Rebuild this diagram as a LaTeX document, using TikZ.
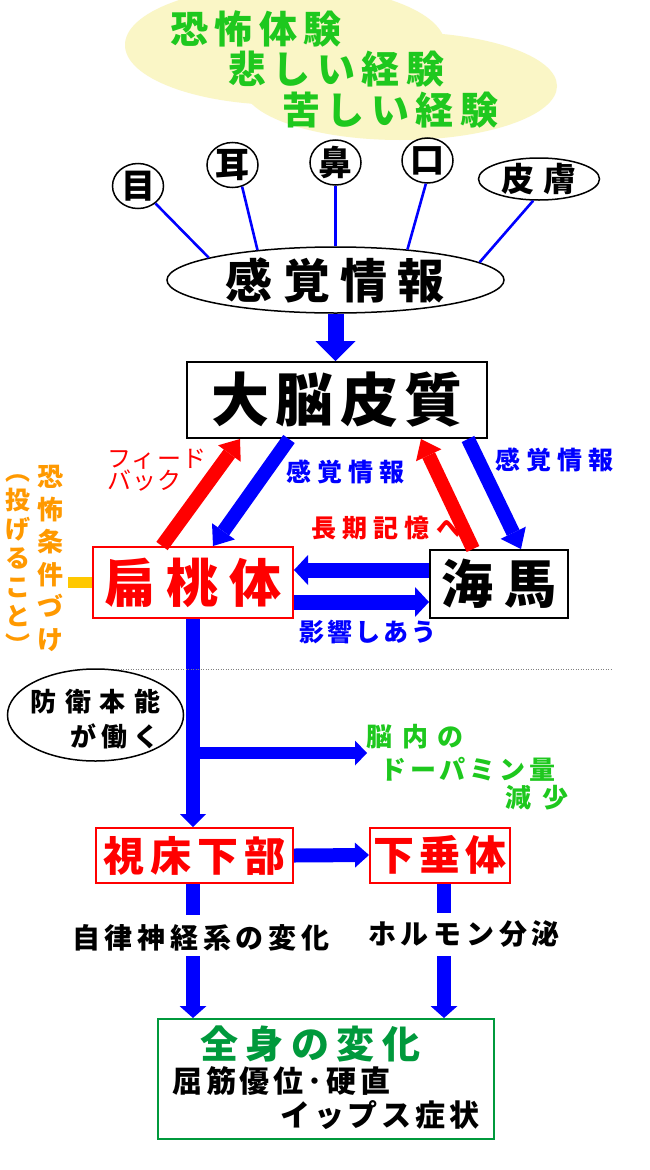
\documentclass[tikz,border=0pt]{standalone}
\usepackage{fontspec}
\setmainfont{Noto Sans CJK JP}
\usetikzlibrary{arrows.meta,shapes.geometric}
\definecolor{myblue}{RGB}{0,0,255}
\definecolor{myred}{RGB}{255,0,0}
\definecolor{lgreen}{RGB}{30,200,30}
\definecolor{dgreen}{RGB}{0,153,60}
\definecolor{orng}{RGB}{255,153,0}
\definecolor{goldbar}{RGB}{255,200,0}
\definecolor{cloudy}{RGB}{250,246,198}
\newcommand{\jf}[2]{\fontsize{#1}{#1}\selectfont\addfontfeatures{LetterSpace=#2}}
\tikzset{
  lbl/.style={inner sep=0pt, anchor=west},
  sensenode/.style={draw, ellipse, line width=1.5pt, inner sep=0pt, minimum width=51pt, minimum height=45pt},
  sline/.style={draw=myblue, line width=2.6pt},
  boxnode/.style={draw, line width=2pt, inner sep=0pt},
  tri/.style={line width=14pt, -{Triangle[width=28pt,length=18pt,line width=0pt]}},
  harr/.style={myblue, line width=15pt, -{Triangle[width=30pt,length=14pt,line width=0pt]}},
  varr/.style={myblue, line width=14pt, -{Triangle[width=26pt,length=13pt,line width=0pt]}},
  shaft/.style={myblue, line width=14pt},
}
\begin{document}
\begin{tikzpicture}[x=1pt,y=-1pt]
\clip (0,0) rectangle (650,1170);
\fill[white] (0,0) rectangle (650,1170);
% cloud
\fill[cloudy] (285,45) ellipse [x radius=160pt, y radius=60pt];
\fill[cloudy] (400,86) ellipse [x radius=157pt, y radius=54pt];
\node[lbl, lgreen, font=\bfseries\jf{38}{17}] (t1) at (170,29) {恐怖体験};
\node[lbl, lgreen, font=\bfseries\jf{38}{17}] (t2) at (228,69) {悲しい経験};
\node[lbl, lgreen, font=\bfseries\jf{38}{17}] (t3) at (282,110) {苦しい経験};
% senses
\node[sensenode, label={[font=\bfseries\jf{34}{0}]center:目}] (eye) at (138,186) {};
\node[sensenode, label={[font=\bfseries\jf{34}{0}]center:耳}] (ear) at (232.5,165) {};
\node[sensenode, label={[font=\bfseries\jf{34}{0}]center:鼻}] (nose) at (335.5,162.5) {};
\node[sensenode, label={[font=\bfseries\jf{34}{0}]center:口}] (mouth) at (427.5,160.5) {};
\node[sensenode, minimum width=121pt, minimum height=42pt, label={[font=\bfseries\jf{33}{26}]center:皮膚}] (skin) at (539,179) {};
\node[draw, ellipse, line width=1.5pt, inner sep=0pt, minimum width=337pt, minimum height=66pt,
      label={[font=\bfseries\jf{47}{22}]center:感覚情報}] (sense) at (335.5,280) {};
\draw[sline] (eye.-45) -- (sense.170.8);
\draw[sline] (ear.-66.7) -- (sense.159.2);
\draw[sline] (nose.south) -- (sense.north);
\draw[sline] (mouth.-94) -- (sense.23);
\draw[sline] (skin.-105) -- (sense.7.4);
% main boxes
\node[boxnode, minimum width=300pt, minimum height=76pt, font=\bfseries\jf{58}{11}] (cortex) at (337,400) {大脳皮質};
\node[boxnode, draw=myred, text=myred, minimum width=200pt, minimum height=71pt, font=\bfseries\jf{52}{20}] (amyg) at (193,582.5) {扁桃体};
\node[boxnode, minimum width=138pt, minimum height=68pt, font=\bfseries\jf{52}{23}] (hip) at (499,584) {海馬};
\node[boxnode, draw=myred, text=myred, minimum width=197pt, minimum height=55pt, font=\bfseries\jf{41}{15}] (hypo) at (194.5,855.5) {視床下部};
\node[boxnode, draw=myred, text=myred, minimum width=140pt, minimum height=55pt, font=\bfseries\jf{41}{13}] (pit) at (440,855) {下垂体};
\node[boxnode, draw=dgreen, minimum width=336pt, minimum height=120pt] (body) at (325.5,1079) {};
% arrows
\draw[myblue, line width=16pt, -{Triangle[width=40pt,length=20pt,line width=0pt]}] (sense.south) -- (sense.south |- cortex.north);
\draw[tri, myred] ([xshift=-31pt]amyg.north) -- ([xshift=-97pt]cortex.south);
\draw[tri, myblue] ([xshift=-48pt]cortex.south) -- ([xshift=20pt]amyg.north);
\draw[tri, myred] ([xshift=-26pt]hip.north) -- ([xshift=84pt]cortex.south);
\draw[tri, myblue] ([xshift=131pt]cortex.south) -- ([xshift=22pt]hip.north);
\coordinate (hu) at ([yshift=14pt]hip.west);
\coordinate (hl) at ([yshift=-18pt]hip.west);
\draw[harr] (hu) -- (hu -| amyg.east);
\draw[harr] (hl -| amyg.east) -- (hl);
\draw[varr] (amyg.south) -- (amyg.south |- hypo.north);
\coordinate (br) at (193,753);
\coordinate (brend) at (367,753);
\draw[myblue, line width=12pt, -{Triangle[width=25pt,length=12pt,line width=0pt]}] (br) -- (brend);
\draw[myblue, line width=14pt, -{Triangle[width=25pt,length=14pt,line width=0pt]}] (hypo.east) -- (pit.west);
\coordinate (a1) at (193,915);
\coordinate (a2) at (193,956);
\coordinate (b1) at (444,913);
\coordinate (b2) at (444,956);
\draw[shaft] (hypo.south -| a1) -- (a1);
\draw[varr, -{Triangle[width=27pt,length=12pt,line width=0pt]}] (a2) -- (a2 |- body.north);
\draw[shaft] (pit.south -| b1) -- (b1);
\draw[varr, -{Triangle[width=27pt,length=12pt,line width=0pt]}] (b2) -- (b2 |- body.north);
% gold bar
\coordinate (gb) at (68,582.5);
\draw[goldbar, line width=11pt] (amyg.west) -- (gb);
% dotted line
\draw[gray, line width=1pt, dash pattern=on 1pt off 1.5pt] (108,669) -- (612,669);
% labels
\node[lbl, myred, font=\jf{24}{5}] (fb1) at (107,459) {フィード};
\node[lbl, myred, font=\jf{24}{5}] (fb2) at (107,481) {バック};
\node[lbl, myblue, font=\bfseries\jf{25}{25}] (s1) at (286,471.5) {感覚情報};
\node[lbl, myblue, font=\bfseries\jf{25}{25}] (s2) at (495,460) {感覚情報};
\node[lbl, myred, font=\bfseries\jf{25}{25}] (lt) at (311,528.5) {長期記憶へ};
\node[lbl, myblue, font=\bfseries\jf{25}{12}] (inf) at (299,631.5) {影響しあう};
% orange columns
\node[orng, font=\bfseries\fontsize{26}{32.6}\selectfont, align=center, inner sep=0pt] (fc) at (50,558.5) {恐\\怖\\条\\件\\づ\\け};
\node[orng, font=\bfseries\fontsize{25}{29}\selectfont, align=center, inner sep=0pt] (fc2) at (18,565) {︵\\投\\げ\\る\\こ\\と\\︶};
% defense ellipse
\node[draw, ellipse, line width=1.5pt, inner sep=0pt, minimum width=176pt, minimum height=92pt] (def) at (95.5,715) {};
\node[lbl, font=\bfseries\jf{26}{34}] (d1) at (30,701.5) {防衛本能};
\node[lbl, font=\bfseries\jf{26}{22}] (d2) at (70,736.5) {が働く};
% dopamine text
\node[lbl, lgreen, font=\bfseries\jf{26}{38}] (g1) at (366,736.5) {脳内の};
\node[lbl, lgreen, font=\bfseries\jf{26}{15}] (g2) at (380,769) {ドーパミン量};
\node[lbl, lgreen, font=\bfseries\jf{26}{44}] (g3) at (505,798) {減少};
% bottom texts
\node[lbl, font=\bfseries\jf{28}{17}] (auto) at (72,937.5) {自律神経系の変化};
\node[lbl, font=\bfseries\jf{28}{17}] (horm) at (368,934) {ホルモン分泌};
\node[lbl, dgreen, font=\bfseries\jf{38}{20}] (w1) at (200,1043.5) {全身の変化};
\node[lbl, font=\bfseries\jf{30}{13}] (w2) at (172,1081.5) {屈筋優位･硬直};
\node[lbl, font=\bfseries\jf{30}{13}] (w3) at (280,1115) {イップス症状};
\end{tikzpicture}
\end{document}
